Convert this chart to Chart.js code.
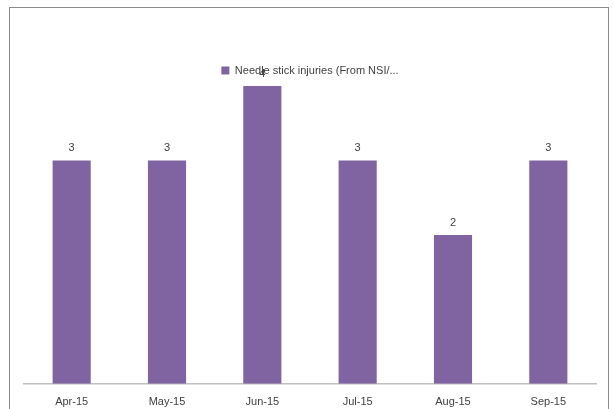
<!DOCTYPE html>
<html>
<head>
<meta charset="utf-8">
<script src="https://cdn.jsdelivr.net/npm/chart.js@4.4.0/dist/chart.umd.min.js"></script>
<style>
    html, body { margin: 0; padding: 0; background: #fff; }
    #wrap { position: relative; width: 614px; height: 409px; overflow: hidden; }
    #frame {
        position: absolute; left: 9px; top: 7px; width: 600px; height: 420px;
        border: 1px solid #8a8a8a; box-sizing: border-box;
    }
    canvas { position: absolute; left: 0; top: 0; }
</style>
</head>
<body>
<div id="wrap">
    <div id="frame"></div>
    <canvas id="injuryChart" width="614" height="424"></canvas>
</div>
<script>
const months = ['Apr-15', 'May-15', 'Jun-15', 'Jul-15', 'Aug-15', 'Sep-15'];
const injuries = [3, 3, 4, 3, 2, 3];
const seriesName = 'Needle stick injuries (From NSI/...';

// draws the value above each bar, like the excel data labels
const barValues = {
    id: 'barValues',
    afterDatasetsDraw(chart) {
        const ctx = chart.ctx;
        const meta = chart.getDatasetMeta(0);
        ctx.save();
        ctx.font = '11px "Liberation Sans", Arial, sans-serif';
        ctx.fillStyle = '#404040';
        ctx.textAlign = 'center';
        ctx.textBaseline = 'middle';
        meta.data.forEach((bar, i) => {
            ctx.fillText(injuries[i], bar.x, bar.y - 12);
        });
        ctx.restore();
    }
};

document.addEventListener("DOMContentLoaded", function() {
    const ctx = document.getElementById('injuryChart').getContext('2d');

    new Chart(ctx, {
        type: 'bar',
        data: {
            labels: months,
            datasets: [{
                label: seriesName,
                data: injuries,
                backgroundColor: '#8064A2',
                borderWidth: 0,
                categoryPercentage: 1,
                barPercentage: 0.4
            }]
        },
        options: {
            responsive: false,
            animation: false,
            devicePixelRatio: 1,
            layout: {
                padding: { left: 24, right: 18, top: 56, bottom: 3 }
            },
            scales: {
                x: {
                    grid: { display: false, drawTicks: false },
                    border: { display: true, color: '#c0c0c0', width: 1.5 },
                    ticks: {
                        padding: 12,
                        color: '#404040',
                        font: { family: '"Liberation Sans", Arial, sans-serif', size: 11 }
                    }
                },
                y: {
                    display: false,
                    min: 0,
                    max: 4
                }
            },
            plugins: {
                legend: {
                    position: 'top',
                    labels: {
                        boxWidth: 8,
                        boxHeight: 8,
                        padding: 9,
                        color: '#404040',
                        font: { family: '"Liberation Sans", Arial, sans-serif', size: 11 }
                    }
                },
                tooltip: { enabled: false }
            }
        },
        plugins: [barValues]
    });
});
</script>
</body>
</html>
